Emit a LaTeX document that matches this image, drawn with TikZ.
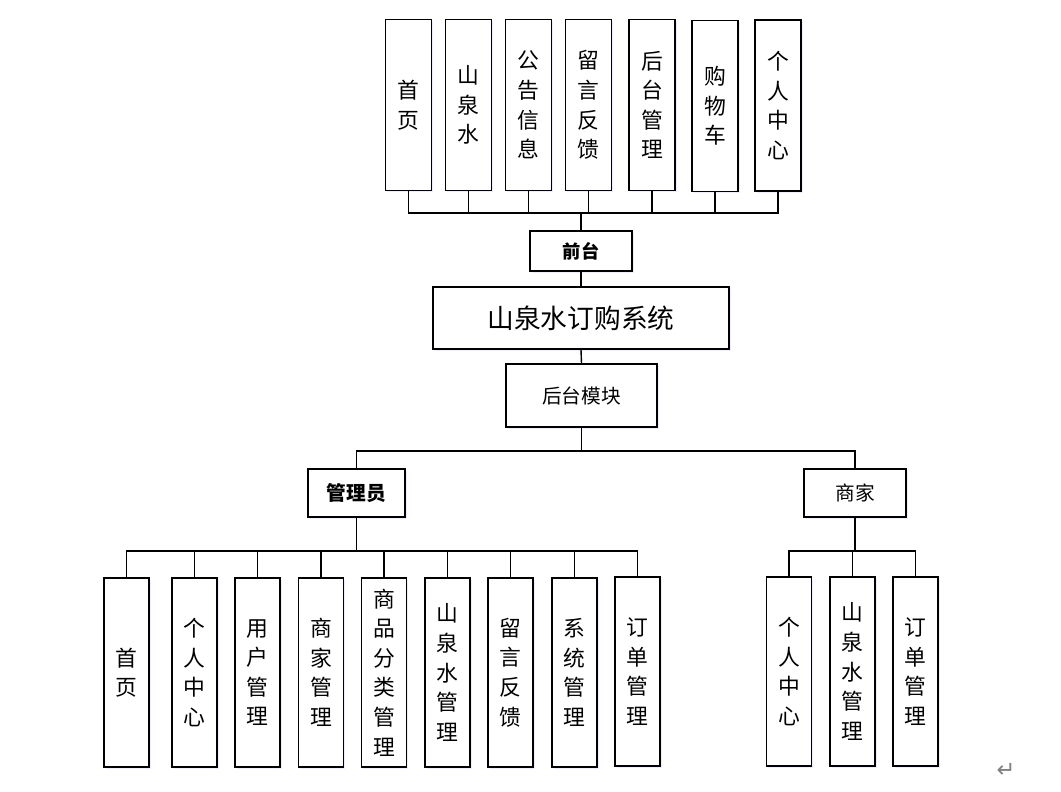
\documentclass[tikz,border=0pt]{standalone}
\usepackage{fontspec}
\setmainfont{Noto Sans CJK SC}
\newfontfamily\symfont{DejaVu Sans}
\usetikzlibrary{shadows}

\begin{document}
\begin{tikzpicture}[x=0.025cm, y=-0.025cm,
                    box_style/.style={draw, fill=white, line width=1pt, inner sep=0pt, align=center,
                        drop shadow={shadow xshift=1.2pt, shadow yshift=-1.2pt, fill=blue!10, opacity=0.7}},
                    col_style/.style={box_style, minimum width=1.15cm, minimum height=4.28cm,
                        font=\fontsize{15.5}{21}\selectfont},
                    low_style/.style={col_style, minimum width=1.13cm, minimum height=4.73cm},
                    edge_style/.style={draw=black, line width=1pt}
   ]
   \useasboundingbox (0,0) rectangle (1061,791);
   % Front modules
   \node[col_style] (f1) at (408.5,105) {首\\页};
   \node[col_style] (f2) at (468.5,105) {山\\泉\\水};
   \node[col_style] (f3) at (528.5,105) {公\\告\\信\\息};
   \node[col_style] (f4) at (588.5,105) {留\\言\\反\\馈};
   \node[col_style] (f5) at (652,105) {后\\台\\管\\理};
   \node[col_style] (f6) at (715,106) {购\\物\\车};
   \node[col_style] (f7) at (778,105.5) {个\\人\\中\\心};
   \node[box_style, minimum width=2.55cm, minimum height=1cm, font=\fontsize{13}{15}\selectfont\bfseries]
        (front) at (581,251) {前台};
   % System
   \node[box_style, minimum width=7.4cm, minimum height=1.55cm, font=\fontsize{19}{21}\selectfont]
        (sys) at (581,318) {山泉水订购系统};
   \node[box_style, minimum width=3.78cm, minimum height=1.58cm, font=\fontsize{14}{16}\selectfont]
        (back) at (581.5,395.5) {后台模块};
   \node[box_style, minimum width=2.43cm, minimum height=1.2cm, font=\fontsize{14}{16}\selectfont\bfseries]
        (admin) at (356.5,493) {管理员};
   \node[box_style, minimum width=2.55cm, minimum height=1.2cm, font=\fontsize{14}{16}\selectfont]
        (shop) at (855,493) {商家};
   % Admin modules
   \node[low_style] (a1) at (126.5,672.5) {首\\页};
   \node[low_style] (a2) at (194.5,672.5) {个\\人\\中\\心};
   \node[low_style] (a3) at (257.5,672.5) {用\\户\\管\\理};
   \node[low_style] (a4) at (321,672.5) {商\\家\\管\\理};
   \node[low_style] (a5) at (384,672.5) {商\\品\\分\\类\\管\\理};
   \node[low_style] (a6) at (447.5,672.5) {山\\泉\\水\\管\\理};
   \node[low_style] (a7) at (510.5,672.5) {留\\言\\反\\馈};
   \node[low_style] (a8) at (574.5,672.5) {系\\统\\管\\理};
   \node[low_style] (a9) at (637.5,671.5) {订\\单\\管\\理};
   % Shop modules
   \node[low_style] (s1) at (789,671.5) {个\\人\\中\\心};
   \node[low_style] (s2) at (852.5,671.5) {山\\泉\\水\\管\\理};
   \node[low_style] (s3) at (915.5,671.5) {订\\单\\管\\理};
   \node[text=gray, font=\symfont\fontsize{16}{18}\selectfont] (ret) at (1006,770) {↵};

   % Connectors
   \coordinate (fbus) at (581,213);
   \coordinate (bbus) at (581.5,451);
   \coordinate (abus) at (356.5,551);
   \coordinate (sbus) at (855,551);
   \draw[edge_style] (f1.south) |- (fbus);
   \draw[edge_style] (f2.south) |- (fbus);
   \draw[edge_style] (f3.south) |- (fbus);
   \draw[edge_style] (f4.south) |- (fbus);
   \draw[edge_style] (f5.south) |- (fbus);
   \draw[edge_style] (f6.south) |- (fbus);
   \draw[edge_style] (f7.south) |- (fbus);
   \draw[edge_style] (fbus) -- (front.north);
   \draw[edge_style] (front.south) -- (sys.north);
   \draw[edge_style] (sys.south) -- (back.north);
   \draw[edge_style] (back.south) -- (bbus);
   \draw[edge_style] (bbus) -| (admin.north);
   \draw[edge_style] (bbus) -| (shop.north);
   \draw[edge_style] (admin.south) -- (abus);
   \draw[edge_style] (abus) -| (a1.north);
   \draw[edge_style] (abus) -| (a2.north);
   \draw[edge_style] (abus) -| (a3.north);
   \draw[edge_style] (abus) -| (a4.north);
   \draw[edge_style] (abus) -| (a5.north);
   \draw[edge_style] (abus) -| (a6.north);
   \draw[edge_style] (abus) -| (a7.north);
   \draw[edge_style] (abus) -| (a8.north);
   \draw[edge_style] (abus) -| (a9.north);
   \draw[edge_style] (shop.south) -- (sbus);
   \draw[edge_style] (sbus) -| (s1.north);
   \draw[edge_style] (sbus) -| (s2.north);
   \draw[edge_style] (sbus) -| (s3.north);
\end{tikzpicture}
\end{document}
